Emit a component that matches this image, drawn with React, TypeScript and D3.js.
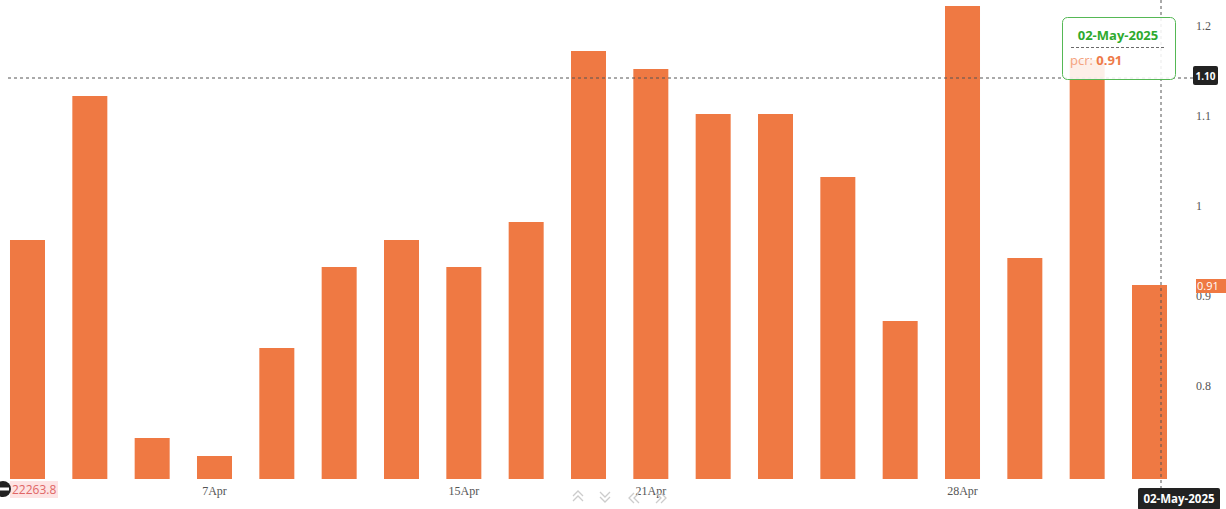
import React from "react";
import * as d3 from "d3";

const dates = ["2Apr","3Apr","4Apr","7Apr","8Apr","9Apr","11Apr","15Apr","16Apr","17Apr","21Apr","22Apr","23Apr","24Apr","25Apr","28Apr","29Apr","30Apr","2May"];
const pcr = [0.96,1.12,0.74,0.72,0.84,0.93,0.96,0.93,0.98,1.17,1.15,1.10,1.10,1.03,0.87,1.22,0.94,1.16,0.91];
const xTickLabels = ["7Apr","15Apr","21Apr","28Apr"];
const yTicks = [0.8,0.9,1.0,1.1,1.2];
const yTickLabels = ["0.8","0.9","1","1.1","1.2"];

const W = 1226, H = 509;
const BAR = "#EF7943";

export default function App() {
  const x = d3.scaleBand<string>().domain(dates).range([-3.67, 1180.67]).paddingInner(0.4385).paddingOuter(0.21925);
  const y = d3.scaleLinear().domain([0.8, 1.2]).range([384, 24]);
  const baseY = 479;
  const crossY = 78;
  const crossX = 1161;
  const last = pcr[pcr.length - 1];
  const lastY = y(last);
  const serif = "'Liberation Serif', 'DejaVu Serif', serif";
  const sans = "'Open Sans', 'Noto Sans', sans-serif";
  return (
    <svg width={W} height={H} style={{ position: "absolute", left: 0, top: 0, background: "#fff" }}>
      <rect width={W} height={H} fill="#fff" />
      {dates.map((d, i) => (
        <rect key={d} x={x(d)} y={y(pcr[i])} width={x.bandwidth()} height={baseY - y(pcr[i])} fill={BAR} />
      ))}
      {yTicks.map((t, i) => (
        <text key={t} x={1196} y={y(t) + 6} fontFamily={serif} fontSize={12} fill="#555">{yTickLabels[i]}</text>
      ))}
      {xTickLabels.map((l) => (
        <text key={l} x={(x(l) ?? 0) + x.bandwidth() / 2} y={495} textAnchor="middle" fontFamily={serif} fontSize={12} fill="#555">{l}</text>
      ))}
      <line x1={8} x2={1195} y1={crossY} y2={crossY} stroke="#555" strokeWidth={1} strokeDasharray="3,3" />
      <line x1={crossX} x2={crossX} y1={0} y2={488} stroke="#555" strokeWidth={1} strokeDasharray="3,3" />
      <rect x={1196} y={lastY - 6} width={30} height={14} fill={BAR} />
      <text x={1197} y={lastY + 5} fontFamily={sans} fontSize={11} fill="#fff">{last.toFixed(2)}</text>
      <rect x={1193} y={crossY - 12} width={25} height={19} rx={2} fill="#222" />
      <text x={1205.5} y={crossY + 2} textAnchor="middle" fontFamily={sans} fontSize={10} fontWeight={700} fill="#fff">1.10</text>
      <rect x={1062.5} y={17.5} width={113} height={62} rx={5} fill="#fff" fillOpacity={0.88} stroke="#55b855" strokeWidth={1} />
      <text x={1118} y={40} textAnchor="middle" fontFamily={sans} fontSize={13} fontWeight={700} fill="#2eaa2e">02-May-2025</text>
      <line x1={1071} x2={1165} y1={47.5} y2={47.5} stroke="#444" strokeDasharray="3,2" strokeWidth={0.8} />
      <text x={1070} y={65} fontFamily={sans} fontSize={13} fill="#f4a27e">pcr: <tspan fontWeight={700} fill="#ee7a48">{last.toFixed(2)}</tspan></text>
      <rect x={10} y={481} width={48} height={17} fill="#fde3e3" />
      <text x={12} y={494} fontFamily={sans} fontSize={12} fill="#e06666">22263.8</text>
      <circle cx={3} cy={489} r={8} fill="#222" />
      <rect x={-2} y={487.5} width={11} height={3} fill="#fff" />
      <g stroke="#ccc" strokeWidth={1.3} fill="none">
        <path d="M573,496 l5,-5 l5,5 M573,501 l5,-5 l5,5" />
        <path d="M600,492 l5,5 l5,-5 M600,497 l5,5 l5,-5" />
        <path d="M634,493 l-5,5 l5,5 M639,493 l-5,5 l5,5" />
        <path d="M656,493 l5,5 l-5,5 M661,493 l5,5 l-5,5" />
      </g>
      <rect x={1138} y={488} width={82} height={22} rx={2} fill="#222" />
      <text x={1179} y={503} textAnchor="middle" fontFamily={sans} fontSize={11.5} fontWeight={700} fill="#fff">02-May-2025</text>
    </svg>
  );
}
